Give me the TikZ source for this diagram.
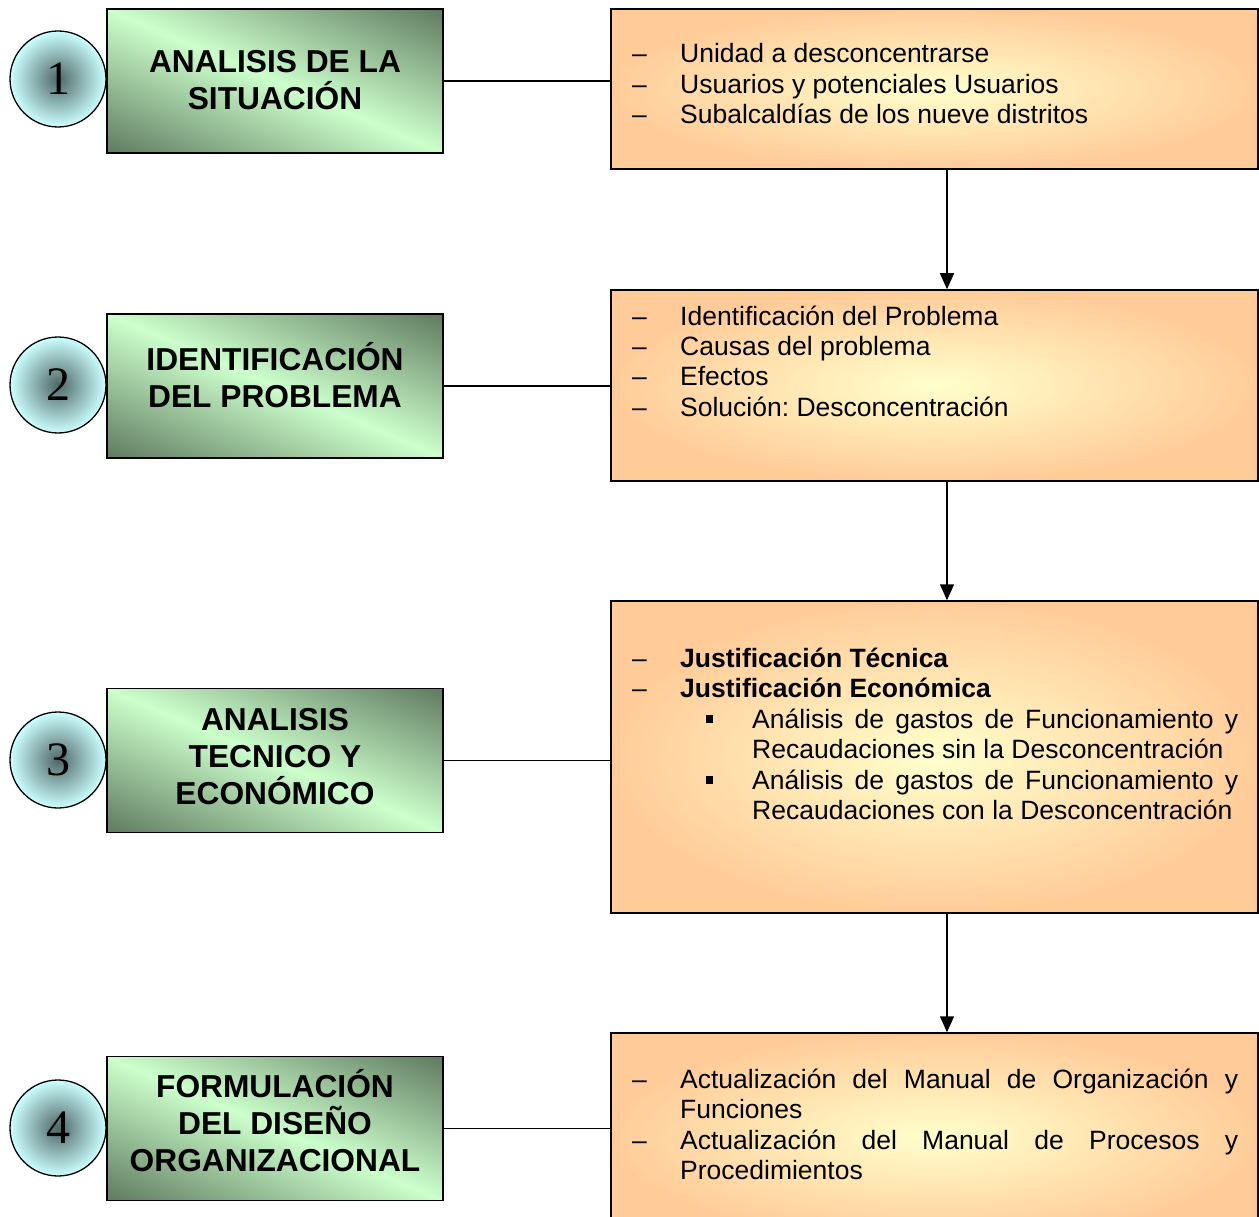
\documentclass[tikz,border=0pt]{standalone}
\usepackage{fontspec}
\setmainfont{Liberation Sans}
\newfontfamily\numfont{Liberation Serif}
\usetikzlibrary{arrows.meta}
\definecolor{glight}{HTML}{CCFFCC}
\definecolor{gdark}{HTML}{5F7A5F}
\definecolor{olight}{HTML}{FFFFCC}
\definecolor{odark}{HTML}{FFCC99}
\definecolor{clight}{HTML}{CCFFFF}
\definecolor{cdark}{HTML}{4F6767}
\pgfdeclarefunctionalshading{greendiag}{\pgfpoint{0bp}{0bp}}{\pgfpoint{100bp}{100bp}}{}{
  add 100 sub abs 50 div dup 1 gt {pop 1} if
  dup -0.427 mul 0.8 add exch
  dup -0.522 mul 1 add exch
  -0.427 mul 0.8 add
}
\hyphenpenalty=10000
\exhyphenpenalty=10000
\tolerance=9999
\emergencystretch=20pt
\frenchspacing
\newcommand{\itm}[1]{\par\noindent\hangindent=48pt\hangafter=1 \makebox[48pt][l]{–}#1}
\newcommand{\subitm}[1]{\par\noindent\hangindent=120pt\hangafter=1 \hspace*{74pt}\makebox[46pt][l]{\raisebox{5pt}{\rule{7pt}{8pt}}}#1}
\newcommand{\obody}[1]{\parbox[t]{606pt}{\hyphenpenalty=10000 \tolerance=9999 \frenchspacing #1}}
\tikzset{
  gbox/.style={draw, line width=1.5pt, minimum width=336pt, minimum height=144pt, inner sep=0pt,
    shade, shading=greendiag},
  gtitle/.style={align=center, inner sep=0pt, font=\bfseries\fontsize{31.7}{37}\selectfont},
  obox/.style={draw, line width=1.5pt, minimum width=647pt, inner sep=0pt,
    inner color=olight, outer color=odark},
  otext/.style={anchor=base west, inner sep=0pt, font=\fontsize{26.5}{30.5}\selectfont},
  circ/.style={circle, draw, line width=1.3pt, minimum size=96pt, inner sep=0pt,
    inner color=cdark, outer color=clight, font=\numfont\fontsize{48}{48}\selectfont},
  conn/.style={line width=1.5pt},
  arr/.style={line width=1.5pt, -{Triangle[width=14pt,length=16pt]}}
}
\begin{document}
\begin{tikzpicture}[x=1pt, y=-1pt]
\useasboundingbox (0,0) rectangle (1259,1217);
\clip (0,0) rectangle (1259,1217);
\fill[white] (0,0) rectangle (1259,1217);

% green boxes
\node[gbox] (g1) at (275,81) {};
\node[gbox] (g2) at (275,386) {};
\node[gbox] (g3) at (275,760.5) {};
\node[gbox] (g4) at (275,1128.5) {};
\node[gtitle] (t1) at ([yshift=1pt]g1.center) {ANALISIS DE LA\\SITUACIÓN};
\node[gtitle] (t2) at ([yshift=11pt]g2.center) {IDENTIFICACIÓN\\DEL PROBLEMA};
\node[gtitle] (t3) at ([yshift=4pt]g3.center) {ANALISIS\\TECNICO Y\\ECONÓMICO};
\node[gtitle] (t4) at ([yshift=8pt]g4.center) {FORMULACIÓN\\DEL DISEÑO\\ORGANIZACIONAL};

% circles
\node[circ] (c1) at (58,79) {1};
\node[circ] (c2) at (58,385) {2};
\node[circ] (c3) at (58,760) {3};
\node[circ] (c4) at (58,1128) {4};

% orange boxes
\node[obox, minimum height=160pt] (o1) at (934.5,89) {};
\node[obox, minimum height=191pt] (o2) at (934.5,385.5) {};
\node[obox, minimum height=312pt] (o3) at (934.5,757) {};
\node[obox, minimum height=207pt] (o4) at (934.5,1136.5) {};

% orange texts
\node[otext] (x1) at (632,63) {\obody{%
\itm{Unidad a desconcentrarse}
\itm{Usuarios y potenciales Usuarios}
\itm{Subalcaldías de los nueve distritos}}};
\node[otext] (x2) at (632,325) {\obody{%
\itm{Identificación del Problema}
\itm{Causas del problema}
\itm{Efectos}
\itm{Solución: Desconcentración}}};
\node[otext] (x3) at (632,667) {\obody{%
\itm{\textbf{Justificación Técnica}}
\itm{\textbf{Justificación Económica}}
\subitm{Análisis de gastos de Funcionamiento y\linebreak Recaudaciones sin la Desconcentración}
\subitm{Análisis de gastos de Funcionamiento y\linebreak Recaudaciones con la Desconcentración}}};
\node[otext] (x4) at (632,1088) {\obody{%
\itm{Actualización del Manual de Organización y\linebreak Funciones}
\itm{Actualización del Manual de Procesos y\linebreak Procedimientos}}};

% connectors
\draw[conn] (g1.east) -- (g1.east -| o1.west);
\draw[conn] (g2.east) -- (g2.east -| o2.west);
\draw[conn] (g3.east) -- (g3.east -| o3.west);
\draw[conn] (g4.east) -- (g4.east -| o4.west);
\coordinate (ax) at (947,0);
\draw[arr] (o1.south -| ax) -- (o2.north -| ax);
\draw[arr] (o2.south -| ax) -- (o3.north -| ax);
\draw[arr] (o3.south -| ax) -- (o4.north -| ax);
\end{tikzpicture}
\end{document}
